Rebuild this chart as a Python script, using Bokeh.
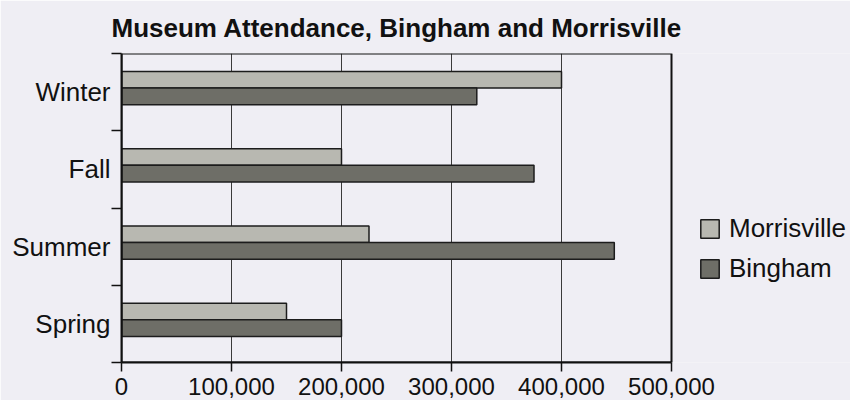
from bokeh.plotting import figure
from bokeh.models import (ColumnDataSource, Range1d, FixedTicker, NumeralTickFormatter,
                          Legend, LegendItem, BoxAnnotation)
from bokeh.transform import dodge
from bokeh.embed import file_html
from bokeh.resources import INLINE

# ---- data (bottom to top) ----
categories = ["Spring", "Summer", "Fall", "Winter"]
morrisville = [150000, 225000, 200000, 400000]
bingham = [200000, 448000, 375000, 323000]
x_ticks = [0, 100000, 200000, 300000, 400000, 500000]

BG = "#efeef4"
FONT = "Liberation Sans"

W, H = 850, 400
LEFT, RIGHT_EDGE = 121, 671          # pixel extent of the 0..500,000 value axis
x_max = x_ticks[-1]
# the drawing area runs on past the value axis so the legend can live in it
x_end = x_max * (W - LEFT) / (RIGHT_EDGE - LEFT)

src = ColumnDataSource(dict(
    y=[i + 0.5 for i in range(len(categories))],
    cat=categories,
    Morrisville=morrisville,
    Bingham=bingham,
))

p = figure(width=W, height=H, output_backend="svg", toolbar_location=None,
           x_range=Range1d(0, x_end), y_range=Range1d(0, len(categories)),
           min_border_left=LEFT, min_border_right=0, min_border_top=53, min_border_bottom=38)

p.background_fill_color = BG
p.border_fill_color = BG
p.outline_line_color = None

# title
p.title.text = "Museum Attendance, Bingham and Morrisville"
p.title.align = "left"
p.title.offset = -10
p.title.vertical_align = "top"
p.title.text_font = FONT
p.title.text_font_size = "26px"
p.title.text_font_style = "bold"
p.title.text_color = "#111111"
p.title.standoff = 18

# grid
p.xgrid.ticker = FixedTicker(ticks=x_ticks[1:-1])
p.xgrid.grid_line_color = "#3a3a3a"
p.xgrid.grid_line_width = 1
p.ygrid.grid_line_color = None

bar_h = 0.215
rM = p.hbar(y=dodge("y", 0.16, range=p.y_range), right="Morrisville", left=0, height=bar_h,
            source=src, fill_color="#b8b8b1", line_color="#1c1c1c", line_width=1.5)
rB = p.hbar(y=dodge("y", -0.055, range=p.y_range), right="Bingham", left=0, height=bar_h,
            source=src, fill_color="#6e6e67", line_color="#1c1c1c", line_width=1.5)

# plot-area border (top and right edges of the chart box)
p.add_layout(BoxAnnotation(left=0, right=x_max, bottom=0, top=len(categories),
                           fill_alpha=0, line_color="#111111", line_alpha=1, line_width=2))

# x axis
xa = p.xaxis[0]
xa.bounds = (0, x_max)
xa.ticker = FixedTicker(ticks=x_ticks)
xa.formatter = NumeralTickFormatter(format="0,0")
xa.axis_line_color = "#111111"
xa.axis_line_width = 2
xa.major_tick_out = 9
xa.major_tick_in = 0
xa.major_tick_line_color = "#111111"
xa.major_tick_line_width = 1.5
xa.minor_tick_line_color = None
xa.major_label_text_font = FONT
xa.major_label_text_font_size = "24px"
xa.major_label_text_color = "#111111"
xa.major_label_text_line_height = 0.75
xa.major_label_standoff = 6

# y axis: labels at category centres, ticks on the boundaries
ya = p.yaxis[0]
centers = [i + 0.5 for i in range(len(categories))]
bounds = [float(i) for i in range(len(categories) + 1)]
ya.ticker = FixedTicker(ticks=centers, minor_ticks=bounds)
ya.major_label_overrides = {c: name for c, name in zip(centers, categories)}
ya.axis_line_color = "#111111"
ya.axis_line_width = 2
ya.major_tick_out = 0
ya.major_tick_in = 0
ya.minor_tick_out = 10
ya.minor_tick_in = 0
ya.minor_tick_line_color = "#111111"
ya.minor_tick_line_width = 1.5
ya.major_label_text_font = FONT
ya.major_label_text_font_size = "26px"
ya.major_label_text_color = "#111111"
ya.major_label_standoff = 1

legend = Legend(items=[LegendItem(label="Morrisville", renderers=[rM]),
                       LegendItem(label="Bingham", renderers=[rB])],
                location=(577, 78), orientation="vertical")
legend.background_fill_alpha = 0
legend.border_line_color = None
legend.padding = 0
legend.margin = 0
legend.spacing = 9
legend.glyph_width = 23
legend.glyph_height = 23
legend.label_standoff = 8
legend.label_text_font = FONT
legend.label_text_font_size = "26px"
legend.label_text_color = "#111111"
p.add_layout(legend, "center")

open("out.html", "w").write(file_html(p, INLINE))
